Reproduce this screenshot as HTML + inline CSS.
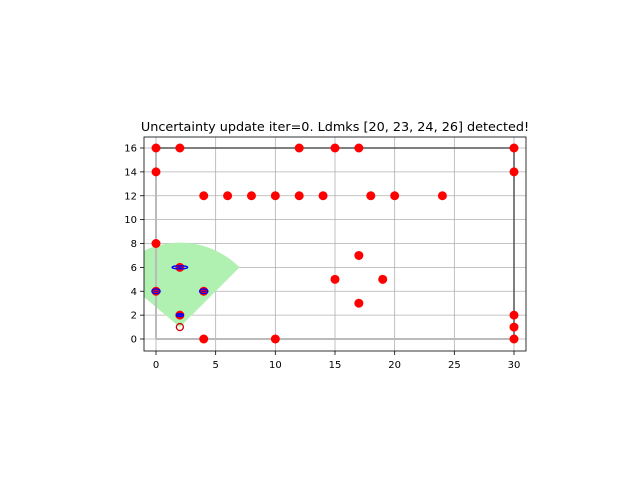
<!DOCTYPE html>
<html><head><meta charset="utf-8"><style>
body{margin:0;background:#fff;width:640px;height:480px;overflow:hidden}
svg text{font-family:"DejaVu Sans","Liberation Sans",sans-serif}
</style></head><body>
<svg id="chart" width="640" height="480" xmlns="http://www.w3.org/2000/svg">
<rect width="640" height="480" fill="#fff"/>
<text x="335" y="131" font-size="12.8" text-anchor="middle">Uncertainty update iter=0. Ldmks [20, 23, 24, 26] detected!</text>
<defs><clipPath id="clip"><rect x="144" y="137" width="382" height="214"/></clipPath></defs>
<g id="grid"></g>
<g id="plot" clip-path="url(#clip)"></g>
<rect x="144" y="137" width="382" height="214" fill="none" stroke="#000" stroke-width="0.8"/>
<g id="ticks"></g>
</svg>
<script>
const xTicks=[0,5,10,15,20,25,30];
const yTicks=[0,2,4,6,8,10,12,14,16];
const lmX=[0,2,12,15,17,30,0,30,4,6,8,10,12,14,18,20,24,0,17,2,15,19,0,4,17,2,30,30,4,10,30];
const lmY=[16,16,16,16,16,16,14,14,12,12,12,12,12,12,12,12,12,8,7,6,5,5,4,4,3,2,2,1,0,0,0];
const estX=[2,0,4,2];
const estY=[6,4,4,2];
const estRx=[0.65,0.35,0.35,0.3];
const estRy=[0.13,0.2,0.2,0.12];
const robot=[2,1];
const fovRadius=7.07;
const fovAngles=[45,140];
const pathX=[0,0,30,30,0];
const pathY=[0,16,16,0,0];
const X=v=>156+(v-0)*(514-156)/30;
const Y=v=>339-(v-0)*(339-148)/16;
const NS="http://www.w3.org/2000/svg";
const mk=(t,a,p)=>{const e=document.createElementNS(NS,t);for(const k in a)e.setAttribute(k,a[k]);p.appendChild(e);return e;};
const grid=document.getElementById('grid'),plot=document.getElementById('plot'),ticks=document.getElementById('ticks');
xTicks.forEach(t=>{
 const l=mk('line',{x1:X(t),x2:X(t),y1:137,y2:351,stroke:'#b0b0b0','stroke-width':0.8},grid);
 
 
 mk('line',{x1:X(t),x2:X(t),y1:351,y2:355,stroke:'#000','stroke-width':0.8},ticks);
 const tx=mk('text',{x:X(t),y:368,'font-size':10,'text-anchor':'middle'},ticks);tx.textContent=t;
 
 
});
yTicks.forEach(t=>{
 const l=mk('line',{x1:144,x2:526,y1:Y(t),y2:Y(t),stroke:'#b0b0b0','stroke-width':0.8},grid);
 
 
 mk('line',{x1:140,x2:144,y1:Y(t),y2:Y(t),stroke:'#000','stroke-width':0.8},ticks);
 const tx=mk('text',{x:137,y:Y(t)+3.5,'font-size':10,'text-anchor':'end'},ticks);tx.textContent=t;
 
 
});
const r=fovRadius*(514-156)/30, cx=X(robot[0]), cy=Y(robot[1]);
const a0=fovAngles[0]*Math.PI/180,a1=fovAngles[1]*Math.PI/180;
const ry=fovRadius*(339-148)/16;
const w=mk('path',{d:`M${cx},${cy} L${cx+r*Math.cos(a0)},${cy-ry*Math.sin(a0)} A${r},${ry} 0 0 0 ${cx+r*Math.cos(a1)},${cy-ry*Math.sin(a1)} Z`,fill:'#b0f0b0'},plot);


for(let i=0;i<pathX.length-1;i++){
 const dark=(pathY[i]==16&&pathY[i+1]==16)||(pathX[i]==30&&pathX[i+1]==30);
 const l=mk('line',{x1:X(pathX[i]),y1:Y(pathY[i]),x2:X(pathX[i+1]),y2:Y(pathY[i+1]),stroke:dark?'#555':'#bbb','stroke-width':dark?1.5:2},plot);
 
 
}
lmX.forEach((x,i)=>{
 const c=mk('circle',{cx:X(x),cy:Y(lmY[i]),r:4.5,fill:'#ff0000'},plot);
 
 
});
estX.forEach((x,i)=>{
 const e=mk('ellipse',{cx:X(x),cy:Y(estY[i]),rx:estRx[i]*11.93,ry:estRy[i]*11.94,fill:'none',stroke:'#0000ff','stroke-width':1.3},plot);
 
 
 mk('line',{x1:X(x)-2.5,x2:X(x)+2.5,y1:Y(estY[i]),y2:Y(estY[i]),stroke:'#0000ff','stroke-width':1},plot);
});
const rb=mk('circle',{cx:cx,cy:cy,r:3.5,fill:'none',stroke:'#cc0000','stroke-width':1.3},plot);


</script>
</body></html>
